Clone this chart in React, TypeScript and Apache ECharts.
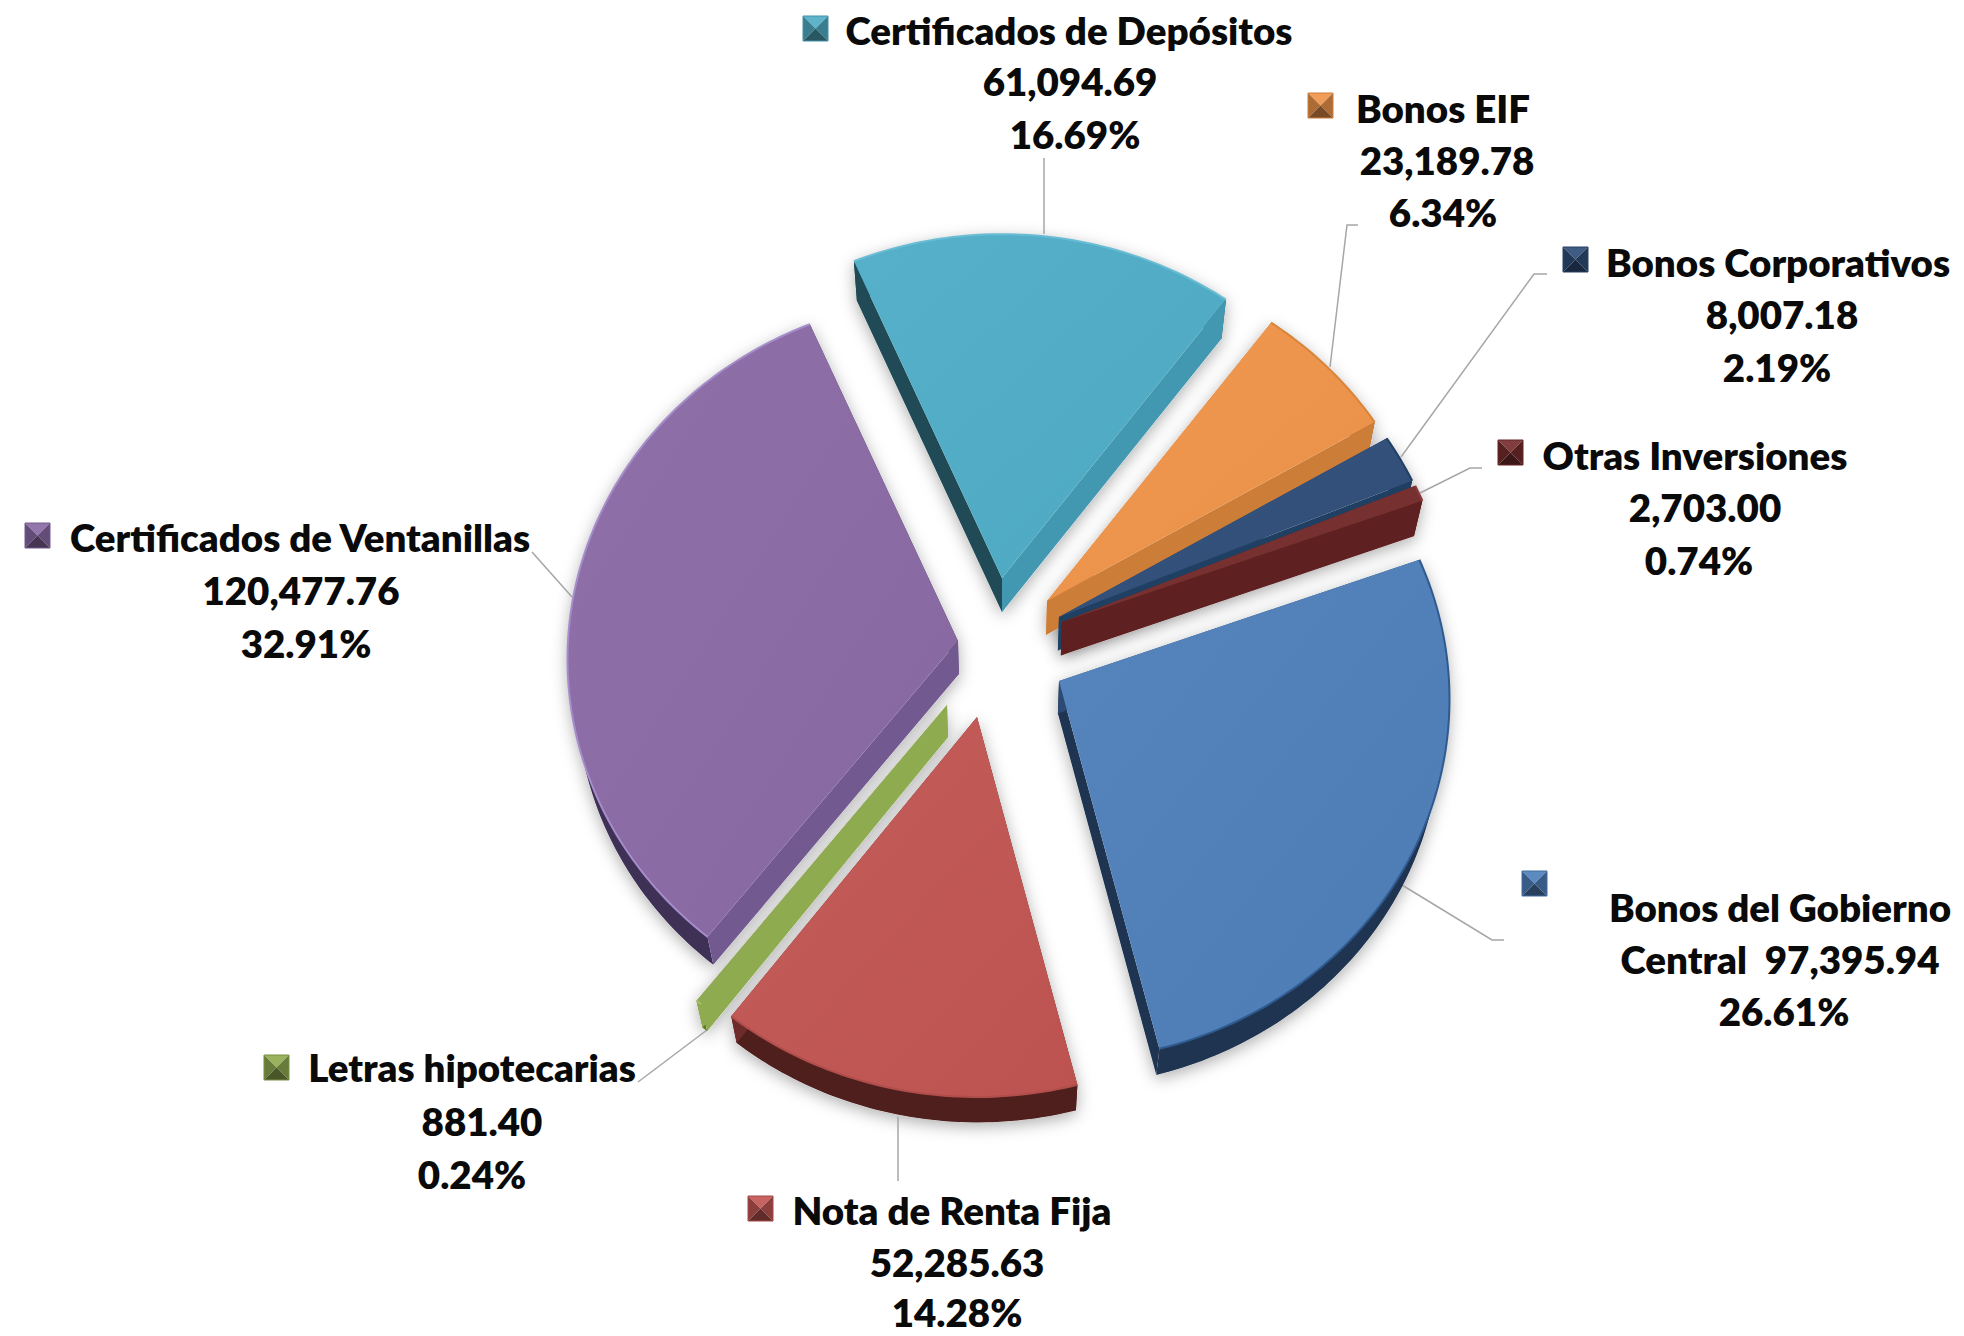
import React, { useEffect, useRef } from "react";
import * as echarts from "echarts";

// ---- data (clockwise, starting with the slice at the top) ----
const categories = [
  "Certificados de Depósitos",
  "Bonos EIF",
  "Bonos Corporativos",
  "Otras Inversiones",
  "Bonos del Gobierno\nCentral",
  "Nota de Renta Fija",
  "Letras hipotecarias",
  "Certificados de Ventanillas",
];
const values = [61094.69, 23189.78, 8007.18, 2703.0, 97395.94, 52285.63, 881.4, 120477.76];

// ---- colours ----
const topColors = ["#4fadc7", "#f0944a", "#2f4e79", "#772d2d", "#4f80bb", "#c25653", "#8fab50", "#8a6aa5"];
const litWallColors = ["#4298b0", "#cc7d38", "#1f3f63", "#5e2020", "#2c4a73", "#6e2b2a", "#8fab50", "#72598f"];
const darkWallColors = ["#204a55", "#7f4d1f", "#1f3552", "#4a1a1a", "#1f3450", "#4f1f1e", "#5f7a2c", "#3f3055"];
const rimColors = ["#68bdd4", "#d98539", "#1f3f63", "#8a3a3a", "#2f5a8f", "#b04e4b", "#a5c263", "#a58ccb"];

// ---- layout ----
const W = 1964;
const H = 1336;
const CENTER_X = 1002;
const CENTER_Y = 664;
const RX = 390;
const RY = 361;
const PERSPECTIVE = 0.05;
const START_DEG = -23.4;
const explodeOffsets = [
  [0, -86],
  [45, -63],
  [57, -47],
  [60, -42],
  [57, 17],
  [-25, 53],
  [-55, 41],
  [-44, -23],
];
const markerBoxes = [
  [803, 16],
  [1308, 93],
  [1563, 247],
  [1498, 440],
  [1522, 871],
  [748, 1196],
  [264, 1055],
  [25, 523],
];
const MARKER = 25;
const lineAnchors = [
  [[1069, 30], [1070, 81], [1075, 134]],
  [[1443, 108], [1447, 160], [1443, 212]],
  [[1778, 262], [1782, 314], [1777, 367]],
  [[1695, 455], [1705, 507], [1699, 560]],
  [[1780, 907], [1780, 959], [1784, 1011]],
  [[472, 1067], [482, 1121], [472, 1174]],
  [[952, 1210], [957, 1262], [957, 1312]],
  [[300, 537], [301, 590], [306, 643]],
];
// order of the last lists follows the label table below
const labelSlice = [0, 1, 2, 3, 4, 6, 5, 7];
const leaderLines = [
  [[1044, 158], [1044, 234]],
  [[1358, 225], [1347, 225], [1330, 367]],
  [[1547, 274], [1534, 274], [1401, 457]],
  [[1482, 468], [1470, 468], [1420, 493]],
  [[1504, 940], [1492, 940], [1402, 885]],
  [[898, 1117], [898, 1181]],
  [[707, 1030], [638, 1082]],
  [[532, 552], [572, 597]],
];
const FONT = { fontFamily: "Lato", fontWeight: 800 as any, fontSize: 38.5 };

const total = values.reduce((a, b) => a + b, 0);
const RAD = Math.PI / 180;

function angleRange(i: number): [number, number] {
  let a = START_DEG;
  for (let k = 0; k < i; k++) a += (values[k] / total) * 360;
  return [a, a + (values[i] / total) * 360];
}
function apexOf(i: number): number[] {
  return [CENTER_X + explodeOffsets[i][0], CENTER_Y + explodeOffsets[i][1]];
}
function rimPoint(i: number, deg: number): number[] {
  const [ax, ay] = apexOf(i);
  const u = Math.sin(deg * RAD);
  const v = -Math.cos(deg * RAD);
  const s = 1 / (1 - PERSPECTIVE * v);
  return [ax + RX * u * s, ay + RY * v * s];
}
function drop(p: number[]): number[] {
  const depth = 39 - 0.017 * (p[1] - 300);
  return [p[0] + (CENTER_X - p[0]) * 0.02, p[1] + depth];
}
function arcPoints(i: number): number[][] {
  const [a, b] = angleRange(i);
  const n = Math.max(2, Math.ceil(b - a));
  const pts: number[][] = [];
  for (let k = 0; k <= n; k++) pts.push(rimPoint(i, a + ((b - a) * k) / n));
  return pts;
}
function hull(points: number[][]): number[][] {
  const p = points.slice().sort((a, b) => a[0] - b[0] || a[1] - b[1]);
  const cross = (o: number[], a: number[], b: number[]) =>
    (a[0] - o[0]) * (b[1] - o[1]) - (a[1] - o[1]) * (b[0] - o[0]);
  const lo: number[][] = [];
  for (const q of p) {
    while (lo.length >= 2 && cross(lo[lo.length - 2], lo[lo.length - 1], q) <= 0) lo.pop();
    lo.push(q);
  }
  const up: number[][] = [];
  for (let j = p.length - 1; j >= 0; j--) {
    const q = p[j];
    while (up.length >= 2 && cross(up[up.length - 2], up[up.length - 1], q) <= 0) up.pop();
    up.push(q);
  }
  return lo.slice(0, -1).concat(up.slice(0, -1));
}
function shade(hex: string, f: number): string {
  const n = parseInt(hex.slice(1), 16);
  const c = [(n >> 16) & 255, (n >> 8) & 255, n & 255].map((x) =>
    Math.min(255, Math.round(f <= 1 ? x * f : x + (255 - x) * (f - 1)))
  );
  return `rgb(${c[0]},${c[1]},${c[2]})`;
}
function poly(points: number[][], fill: any, extra: any = {}) {
  return { type: "polygon", shape: { points }, style: { fill, ...extra } };
}

function renderShadow(params: any) {
  const i = params.dataIndex;
  const arc = arcPoints(i);
  const top = [apexOf(i), ...arc];
  const all = top.concat(top.map(drop));
  const kids: any[] = [
    poly(hull(all), "#ffffff", {
      shadowColor: "rgba(0,0,0,0.32)",
      shadowBlur: 16,
      shadowOffsetX: 0,
      shadowOffsetY: 4,
    }),
  ];
  return { type: "group", children: kids };
}

function renderSlice(params: any) {
  const i = params.dataIndex;
  const apex = apexOf(i);
  const arc = arcPoints(i);
  const kids: any[] = [];
  // outer wall
  kids.push(poly(arc.concat(arc.map(drop).reverse()), darkWallColors[i]));
  // radial walls: the shaded ones first, so that a lit wall covers their overlap
  const walls = [arc[0], arc[arc.length - 1]].map((end) => {
    const lit = (end[0] - apex[0]) * (end[1] - apex[1]) < 0;
    return { lit, points: [apex, end, drop(end), drop(apex)] };
  });
  for (const w of walls.filter((x) => !x.lit)) kids.push(poly(w.points, darkWallColors[i]));
  for (const w of walls.filter((x) => x.lit)) kids.push(poly(w.points, litWallColors[i]));
  // top surface
  kids.push(
    poly([apex, ...arc], {
      type: "linear",
      x: 0,
      y: 0,
      x2: 1,
      y2: 1,
      colorStops: [
        { offset: 0, color: shade(topColors[i], 1.04) },
        { offset: 1, color: shade(topColors[i], 0.97) },
      ],
    })
  );
  kids.push({
    type: "polyline",
    shape: { points: arc },
    style: { fill: "none", stroke: rimColors[i], lineWidth: 2 },
  });
  return { type: "group", children: kids };
}

function labelLines(i: number): string[] {
  const val = values[i].toLocaleString("en-US", { minimumFractionDigits: 2, maximumFractionDigits: 2 });
  const pct = ((values[i] / total) * 100).toFixed(2) + "%";
  const parts = categories[i].split("\n");
  if (parts.length > 1) return [parts[0], `${parts[1]}  ${val}`, pct];
  return [parts[0], val, pct];
}

function renderLabel(params: any) {
  const row = params.dataIndex;
  const i = labelSlice[row];
  const kids: any[] = [];
  kids.push({
    type: "polyline",
    shape: { points: leaderLines[row] },
    style: { fill: "none", stroke: "#a6a6a6", lineWidth: 1.5 },
  });
  // bevelled legend key
  const [mx, my] = markerBoxes[i];
  const s = MARKER;
  const c = [mx + s / 2, my + s / 2];
  const tl = [mx, my];
  const tr = [mx + s, my];
  const bl = [mx, my + s];
  const br = [mx + s, my + s];
  const base = topColors[i];
  kids.push(poly([tl, tr, c], shade(base, 1.08)));
  kids.push(poly([tl, bl, c], shade(base, 0.72)));
  kids.push(poly([tr, br, c], shade(base, 0.72)));
  kids.push(poly([bl, br, c], shade(base, 0.5)));
  kids.push({
    type: "rect",
    shape: { x: mx, y: my, width: s, height: s },
    style: { fill: "none", stroke: shade(base, 0.85), lineWidth: 1 },
  });
  labelLines(i).forEach((text, k) => {
    const [x, y] = lineAnchors[row][k];
    kids.push({
      type: "text",
      x,
      y,
      style: {
        text,
        fill: "#0a0a0a",
        textAlign: "center",
        textVerticalAlign: "middle",
        align: "center",
        verticalAlign: "middle",
        ...FONT,
      },
    });
  });
  return { type: "group", children: kids };
}

export default function App() {
  const ref = useRef<HTMLDivElement>(null);
  useEffect(() => {
    const chart = echarts.init(ref.current!, null, { renderer: "svg" });
    chart.setOption({
      animation: false,
      backgroundColor: "#ffffff",
      series: [
        {
          type: "custom",
          coordinateSystem: "none",
          silent: true,
          clip: false,
          z: 1,
          data: values,
          renderItem: renderShadow,
        },
        {
          type: "custom",
          coordinateSystem: "none",
          silent: true,
          clip: false,
          z: 2,
          data: labelSlice.map((i) => values[i]),
          renderItem: renderLabel,
        },
        {
          type: "custom",
          coordinateSystem: "none",
          silent: true,
          clip: false,
          z: 3,
          data: values,
          renderItem: renderSlice,
        },
      ],
    });
    return () => chart.dispose();
  }, []);
  return <div ref={ref} style={{ position: "absolute", left: 0, top: 0, width: W, height: H }} />;
}
